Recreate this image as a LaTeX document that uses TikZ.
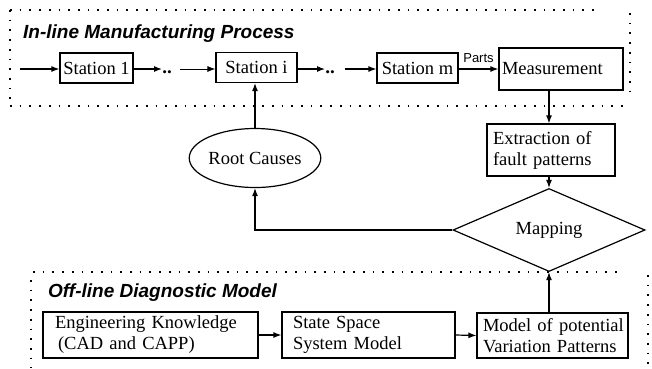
\documentclass[tikz,border=0pt]{standalone}
\usepackage{fontspec}
\setmainfont{Liberation Serif}
\newfontfamily\hel{Liberation Sans}
\usetikzlibrary{shapes.geometric,arrows.meta}
\tikzset{
  box/.style={draw, line width=1.2pt, inner sep=0pt, font=\fontsize{18.5}{21}\selectfont},
  arr/.style={line width=1.2pt, -{Latex[length=8pt,width=6pt]}},
  frame/.style={line width=1.7pt, dash pattern=on 1.7pt off 8pt},
  ttl/.style={font=\hel\bfseries\itshape\fontsize{19}{21}\selectfont, anchor=base west, inner sep=0pt},
  dd/.style={font=\bfseries\fontsize{19}{20}\selectfont, inner sep=0pt}
}
\begin{document}
\begin{tikzpicture}[x=1pt,y=-1pt]
\useasboundingbox (0,0) rectangle (652,368);
% frames
\draw[frame] (10,10) -- (597,10);
\draw[frame] (630,13) -- (630,100);
\draw[frame] (10,106) -- (630,106);
\draw[frame] (10,10) -- (10,106);
\draw[frame] (33,272) -- (620,272);
\draw[frame] (31,280) -- (31,368);
\draw[frame] (648,275) -- (648,368);
\node[ttl] (t1) at (23,38) {In-line Manufacturing Process};
\node[ttl] (t2) at (48,297) {Off-line Diagnostic Model};
% top row
\coordinate (in) at (20,69);
\node[box, minimum width=73pt, minimum height=30pt] (s1) at (96.5,68) {Station 1};
\node[dd] (d1) at (167,72) {..};
\node[box, minimum width=81pt, minimum height=30pt] (si) at (256.5,67.5) {Station i};
\node[dd] (d2) at (330,72) {..};
\node[box, minimum width=81pt, minimum height=30pt] (sm) at (417.5,68) {Station m};
\node[box, minimum width=124pt, minimum height=42pt, text width=118pt, align=left] (meas) at (561,69) {\mbox{Measurement}};
\draw[arr] (in) -- (in -| s1.west);
\draw[arr] (s1.east |- in) -- (d1.west |- in);
\draw[arr, line width=0.9pt] (d1.east |- in) ++(8,0) -- (si.west |- in);
\draw[arr] (si.east |- in) -- (d2.west |- in);
\draw[arr] (d2.east |- in) ++(10,0) -- (sm.west |- in);
\draw[arr] (sm.east |- in) -- node[above=2pt, font=\hel\fontsize{13}{14}\selectfont] {Parts} (meas.west |- in);
% middle
\node[box, minimum width=128pt, minimum height=52pt, text width=116pt, align=left] (ext) at (551,150) {\mbox{Extraction of}\\\mbox{fault patterns}};
\node[box, diamond, minimum width=192pt, minimum height=64pt] (map) at (549,230) {Mapping};
\node[box, ellipse, minimum width=116pt, minimum height=59pt] (root) at (255,158) {Root Causes};
\draw[arr] (meas.south -| map.north) -- (ext.north -| map.north);
\draw[arr] (ext.south -| map.north) -- (map.north);
\draw[arr] (map.west) -| (root.south);
\draw[arr] (root.north) -- (root.north |- si.south);
% bottom
\node[box, minimum width=215pt, minimum height=46pt, text width=191pt, align=left] (ek) at (150.5,335) {\mbox{Engineering Knowledge}\\\mbox{\hspace*{3pt}(CAD and CAPP)}};
\node[box, minimum width=173pt, minimum height=46pt, text width=151pt, align=left] (ss) at (368.5,335) {\mbox{State Space}\\\mbox{System Model}};
\node[box, minimum width=151pt, minimum height=45pt, text width=139pt, align=left] (mp) at (552.5,335.5) {\mbox{Model of potential}\\\mbox{Variation Patterns}};
\draw[arr] (ek.east) -- (ss.west);
\draw[arr] (ss.east) -- (mp.west);
\draw[arr] (mp.north -| map.south) -- (map.south);
\end{tikzpicture}
\end{document}
